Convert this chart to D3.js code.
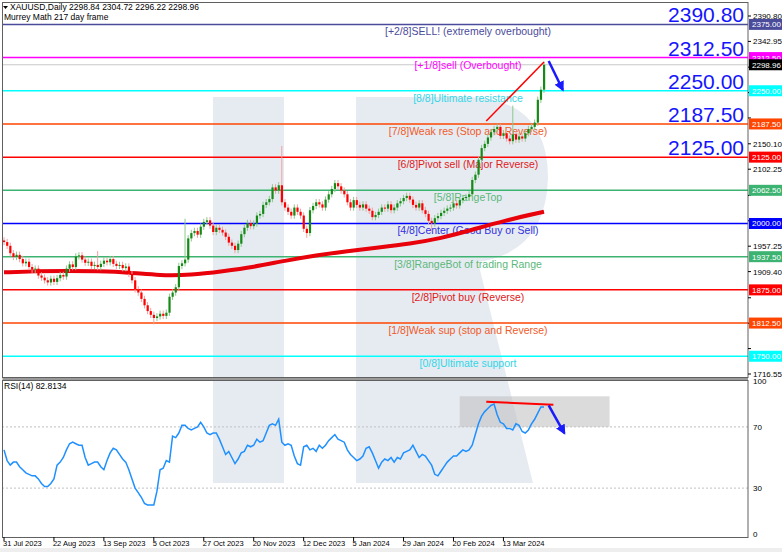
<!DOCTYPE html>
<html lang="en">
<head>
<meta charset="utf-8">
<title>XAUUSD Daily</title>
<script src="https://d3js.org/d3.v7.min.js"></script>
<style>
  body { margin: 0; background: #fff; }
  text { font-family: "Liberation Sans", Arial, sans-serif; }
</style>
</head>
<body>
<script>
// daily closes, 31 Jul 2023 .. early Apr 2024
var closes = [
  1965,1958,1944,1937,1941,1933,1925,1928,1918,1913,
  1915,1902,1898,1893,1889,1896,1890,1897,1903,1900,
  1915,1923,1918,1938,1940,1932,1926,1928,1920,1922,
  1918,1924,1930,1927,1933,1924,1920,1922,1916,1919,
  1905,1893,1876,1870,1858,1846,1835,1828,1822,1825,
  1830,1826,1832,1862,1870,1880,1920,1925,1932,1972,
  1982,1986,1979,1994,2003,2006,1996,1984,1992,1988,
  1983,1975,1964,1958,1950,1962,1980,1992,2001,1995,
  2000,2015,2018,2035,2040,2046,2068,2062,2072,2040,
  2030,2022,2015,2030,2022,2015,1990,1982,2025,2033,
  2040,2036,2030,2045,2055,2065,2076,2070,2062,2055,
  2040,2030,2044,2035,2030,2036,2028,2024,2012,2016,
  2022,2030,2028,2036,2025,2030,2038,2042,2048,2052,
  2045,2035,2030,2038,2025,2018,2005,2000,2010,2014,
  2020,2024,2028,2030,2038,2034,2044,2048,2050,2055,
  2082,2092,2120,2142,2150,2162,2172,2178,2182,2165,
  2170,2160,2155,2168,2158,2164,2160,2170,2178,2182,
  2190,2233,2252,2299
];
// unusual wick extremes, by bar index
var bigHighs = { 89: 2146, 163: 2222, 30: 1948, 58: 2009 };
var bigLows = { 48: 1810, 97: 1973, 137: 1985 };

// 200-day moving average, one value per 10 bars plus last bar
var maIdx = [0,10,20,30,40,50,60,70,80,90,100,110,120,130,140,150,160,173];
var maVals = [1908,1910,1911,1910,1908,1902,1903,1910,1918,1930,1940,1948,1955,1962,1972,1988,2005,2022];

var rsi = [
  55,48,45,47,47,44,42,40,39,38,
  38,36,33,31,31,33,36,45,47,50,
  55,59,60,59,58,58,50,45,46,47,
  47,44,42,48,53,56,55,52,49,47,
  42,36,30,27,24,20,19,19,19,28,
  42,43,48,47,64,63,66,71,71,69,
  68,69,70,73,70,66,65,66,66,62,
  57,52,54,50,46,49,53,54,58,57,
  58,62,60,61,66,71,72,71,75,60,
  58,59,58,51,46,45,57,58,55,56,
  54,58,56,58,61,63,65,62,61,60,
  55,52,50,48,49,51,56,57,53,48,
  43,47,49,48,50,47,50,49,53,54,
  55,58,54,50,52,51,48,45,39,38,
  41,44,47,49,51,51,53,55,54,55,
  58,65,72,77,80,82,84,85,78,73,
  72,69,69,68,72,71,67,66,68,72,
  75,79,83,83
];

var murrey = [
  { v: 2375,   label: "[+2/8]SELL! (extremely overbought)", line: "#4b4b9b", text: "#4b4b9b" },
  { v: 2312.5, label: "[+1/8]sell (Overbought)",            line: "#ff00ff", text: "#ff00ff" },
  { v: 2250,   label: "[8/8]Ultimate resistance",           line: "#00ffff", text: "#33d6e6" },
  { v: 2187.5, label: "[7/8]Weak res (Stop and Reverse)",   line: "#ff4500", text: "#f05a28" },
  { v: 2125,   label: "[6/8]Pivot sell (Major Reverse)",    line: "#ff0000", text: "#e02020" },
  { v: 2062.5, label: "[5/8]RangeTop",                      line: "#3cb371", text: "#5cb87a" },
  { v: 2000,   label: "[4/8]Center (Good Buy or Sell)",     line: "#0000ff", text: "#3030e0" },
  { v: 1937.5, label: "[3/8]RangeBot of trading Range",     line: "#3cb371", text: "#5cb87a" },
  { v: 1875,   label: "[2/8]Pivot buy (Reverse)",           line: "#ff0000", text: "#e02020" },
  { v: 1812.5, label: "[1/8]Weak sup (stop and Reverse)",   line: "#ff4500", text: "#f05a28" },
  { v: 1750,   label: "[0/8]Ultimate support",              line: "#00ffff", text: "#33d6e6" }
];
var bigLabels = [2390.80, 2312.50, 2250.00, 2187.50, 2125.00];
var priceTicks = [2390.80,2342.95,2294.45,2246.60,2198.75,2150.10,2102.25,2052.95,2005.10,1957.25,1909.40,1860.10,1812.25,1764.40,1716.55];
var rsiTicks = [100, 70, 30, 0];
var dateLabels = ["31 Jul 2023","22 Aug 2023","13 Sep 2023","5 Oct 2023","27 Oct 2023","20 Nov 2023","12 Dec 2023","5 Jan 2024","29 Jan 2024","20 Feb 2024","13 Mar 2024"];
var lastPrice = 2298.96;

// annotations [bar, value]
var priceTrend = [[154.5, 2193], [173, 2304]];
var priceArrow = [[174.5, 2306], [179, 2252]];
var rsiTrend = [[154.5, 86.5], [176, 84.5]];
var rsiArrow = [[174.5, 84], [179.5, 66]];
var rsiBox = { x0: 146, x1: 194, y0: 70, y1: 90 };

var W = 782, H = 552, R = 748;
var svg = d3.select("body").append("svg").attr("width", W).attr("height", H);

var x = d3.scaleLinear().domain([0, 173]).range([4, 544]);
var y = d3.scaleLinear().domain([1716.55, 2390.80]).range([374, 16]);
var yr = d3.scaleLinear().domain([0, 100]).range([534, 381]);

var defs = svg.append("defs");
defs.append("marker").attr("id", "arrBlue").attr("viewBox", "0 0 10 10")
  .attr("refX", 8).attr("refY", 5).attr("markerWidth", 4).attr("markerHeight", 4)
  .attr("orient", "auto")
  .append("path").attr("d", "M0,0 L10,5 L0,10 Z").attr("fill", "#1a1aff");
svg.append("clipPath").attr("id", "clipP").append("rect").attr("x", 2).attr("y", 2).attr("width", R - 2).attr("height", 375);
svg.append("clipPath").attr("id", "clipR").append("rect").attr("x", 2).attr("y", 380).attr("width", R - 2).attr("height", 157);

// watermark
var wm = svg.append("g").attr("fill", "#e6ebf2");
wm.append("rect").attr("x", 213).attr("y", 97).attr("width", 71).attr("height", 386);
wm.append("path").attr("d", "M356,97 L470,97 Q548,100 548,178 Q546,252 478,262 L533,483 L356,483 Z");

// price panel
var gp = svg.append("g").attr("clip-path", "url(#clipP)");
gp.append("line").attr("x1", 2).attr("x2", R).attr("y1", y(lastPrice)).attr("y2", y(lastPrice))
  .attr("stroke", "#c8c8c8").attr("stroke-width", 1);

murrey.forEach(function (m) {
  gp.append("line").attr("x1", 2).attr("x2", R).attr("y1", y(m.v)).attr("y2", y(m.v))
    .attr("stroke", m.line).attr("stroke-width", 1.5);
  gp.append("text").attr("x", 468).attr("y", y(m.v) + 11).attr("text-anchor", "middle")
    .attr("font-size", 10.5).attr("fill", m.text).text(m.label);
});

// moving average
gp.append("path")
  .attr("d", d3.line().curve(d3.curveBasis).x(function (d, i) { return x(maIdx[i]); }).y(function (d) { return y(d); })(maVals))
  .attr("fill", "none").attr("stroke", "#e8000b").attr("stroke-width", 4);

// candles
var bars = closes.map(function (c, i) {
  var o = i === 0 ? 1968 : closes[i - 1];
  var hi = bigHighs[i] || Math.max(o, c) + 6;
  var lo = bigLows[i] || Math.min(o, c) - 6;
  return { i: i, o: o, c: c, h: hi, l: lo };
});
var cg = gp.selectAll("g.bar").data(bars).enter().append("g").attr("class", "bar");
cg.append("line")
  .attr("x1", function (d) { return x(d.i); }).attr("x2", function (d) { return x(d.i); })
  .attr("y1", function (d) { return y(d.h); }).attr("y2", function (d) { return y(d.l); })
  .attr("stroke", function (d) { return d.c >= d.o ? "#8cc98c" : "#f2a0a0"; }).attr("stroke-width", 1);
cg.append("rect")
  .attr("x", function (d) { return x(d.i) - 1; }).attr("width", 2.2)
  .attr("y", function (d) { return y(Math.max(d.o, d.c)); })
  .attr("height", function (d) { return Math.max(1, Math.abs(y(d.o) - y(d.c))); })
  .attr("fill", function (d) { return d.c >= d.o ? "#168a16" : "#ff0000"; });

gp.append("line").attr("x1", x(priceTrend[0][0])).attr("y1", y(priceTrend[0][1]))
  .attr("x2", x(priceTrend[1][0])).attr("y2", y(priceTrend[1][1])).attr("stroke", "#ff0000").attr("stroke-width", 1.5);
gp.append("line").attr("x1", x(priceArrow[0][0])).attr("y1", y(priceArrow[0][1]))
  .attr("x2", x(priceArrow[1][0])).attr("y2", y(priceArrow[1][1])).attr("stroke", "#1a1aff").attr("stroke-width", 2.5)
  .attr("marker-end", "url(#arrBlue)");

// large level labels
bigLabels.forEach(function (v, k) {
  var target = k === 0 ? 2375 : v;
  gp.append("text").attr("x", 744).attr("y", y(target) - 2).attr("text-anchor", "end")
    .attr("font-size", 21).attr("fill", "#1414ff").text(v.toFixed(2));
});

gp.append("text").attr("x", 10).attr("y", 10).attr("font-size", 8.5).attr("fill", "#000").text("XAUUSD,Daily  2298.84 2304.72 2296.22 2298.96");
gp.append("path").attr("d", "M3,6 L8,6 L5.5,9 Z").attr("fill", "#000");
gp.append("text").attr("x", 4).attr("y", 20).attr("font-size", 8.5).attr("fill", "#000").text("Murrey Math 217 day frame");

// RSI panel
var gr = svg.append("g").attr("clip-path", "url(#clipR)");
gr.append("rect").attr("x", x(rsiBox.x0)).attr("width", x(rsiBox.x1) - x(rsiBox.x0))
  .attr("y", yr(rsiBox.y1)).attr("height", yr(rsiBox.y0) - yr(rsiBox.y1)).attr("fill", "#bdbdbd").attr("opacity", 0.55);
[70, 30].forEach(function (v) {
  gr.append("line").attr("x1", 2).attr("x2", R).attr("y1", yr(v)).attr("y2", yr(v))
    .attr("stroke", "#c0c0c0").attr("stroke-dasharray", "2,2");
});
gr.append("path").attr("d", d3.line().x(function (d, i) { return x(i); }).y(function (d) { return yr(d); })(rsi))
  .attr("fill", "none").attr("stroke", "#1e90ff").attr("stroke-width", 1.5);
gr.append("line").attr("x1", x(rsiTrend[0][0])).attr("y1", yr(rsiTrend[0][1]))
  .attr("x2", x(rsiTrend[1][0])).attr("y2", yr(rsiTrend[1][1])).attr("stroke", "#ff0000").attr("stroke-width", 2);
gr.append("line").attr("x1", x(rsiArrow[0][0])).attr("y1", yr(rsiArrow[0][1]))
  .attr("x2", x(rsiArrow[1][0])).attr("y2", yr(rsiArrow[1][1])).attr("stroke", "#1a1aff").attr("stroke-width", 2.5)
  .attr("marker-end", "url(#arrBlue)");
gr.append("text").attr("x", 4).attr("y", 389).attr("font-size", 8.5).text("RSI(14) 82.8134");

// frames
svg.append("rect").attr("x", 2.5).attr("y", 2.5).attr("width", R - 2.5).attr("height", 375).attr("fill", "none").attr("stroke", "#606060");
svg.append("rect").attr("x", 2.5).attr("y", 378).attr("width", R - 2.5).attr("height", 2).attr("fill", "#9a9a9a");
svg.append("rect").attr("x", 2.5).attr("y", 380.5).attr("width", R - 2.5).attr("height", 157).attr("fill", "none").attr("stroke", "#606060");
svg.append("rect").attr("x", 0).attr("y", 548).attr("width", W).attr("height", 4).attr("fill", "#eeeeee");

// right axes
var ya = svg.append("g").attr("font-size", 8).attr("fill", "#000");
var tagVals = murrey.map(function (m) { return m.v; }).concat([lastPrice]);
priceTicks.forEach(function (v) {
  ya.append("line").attr("x1", R).attr("x2", R + 3).attr("y1", y(v)).attr("y2", y(v)).attr("stroke", "#000");
  var hidden = tagVals.some(function (t) { return Math.abs(y(t) - y(v)) < 8; });
  if (!hidden) ya.append("text").attr("x", R + 5).attr("y", y(v) + 3).text(v.toFixed(2));
});
rsiTicks.forEach(function (v) {
  ya.append("text").attr("x", R + 5).attr("y", yr(v) + 3).text(v);
});
murrey.concat([{ v: lastPrice, line: "#000000" }]).forEach(function (m) {
  ya.append("rect").attr("x", R + 1).attr("y", y(m.v) - 5.5).attr("width", 33).attr("height", 11).attr("fill", m.line);
  ya.append("text").attr("x", R + 4).attr("y", y(m.v) + 3).attr("fill", "#fff").text(m.v.toFixed(2));
});

// date axis
dateLabels.forEach(function (d, k) {
  var xi = x(k * 16);
  svg.append("line").attr("x1", xi).attr("x2", xi).attr("y1", 537).attr("y2", 541).attr("stroke", "#000");
  svg.append("text").attr("x", xi - 1).attr("y", 546).attr("font-size", 7.5).text(d);
});
</script>
</body>
</html>
